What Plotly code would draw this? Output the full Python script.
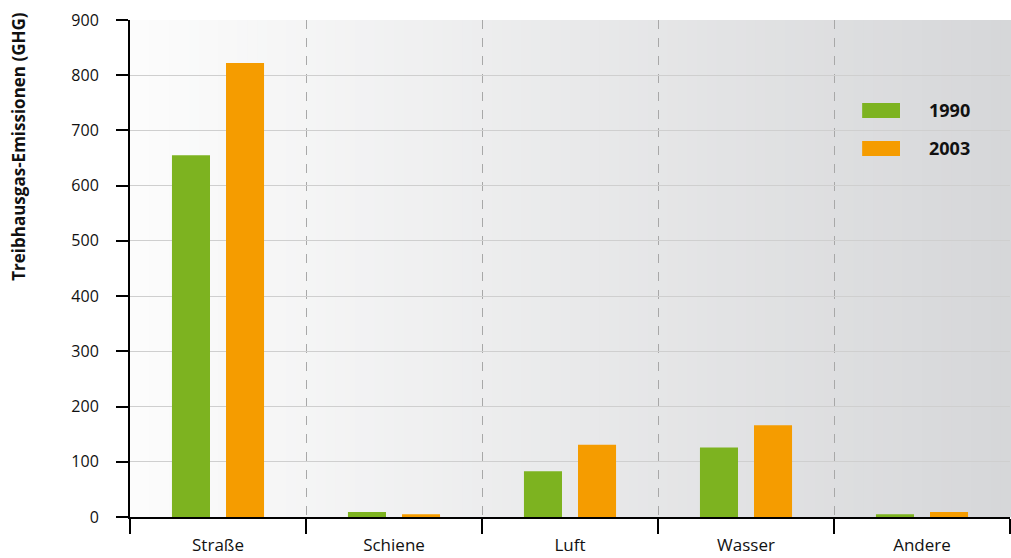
import plotly.graph_objects as go

categories = ["Straße", "Schiene", "Luft", "Wasser", "Andere"]
years = ["1990", "2003"]
values_1990 = [655, 9, 83, 126, 5]
values_2003 = [822, 5, 131, 166, 9]
colors = ["#7db320", "#f59c00"]
y_ticks = [0, 100, 200, 300, 400, 500, 600, 700, 800, 900]

fig = go.Figure()
for name, vals, col in zip(years, [values_1990, values_2003], colors):
    fig.add_trace(go.Bar(x=categories, y=vals, name=name, marker_color=col,
                         marker_line_width=0, showlegend=False))

# background gradient (white -> light grey) as thin stripes
n = 90
c0 = (252, 252, 252)
c1 = (214, 215, 217)
for i in range(n):
    t = i / (n - 1)
    c = tuple(round(a + (b - a) * t) for a, b in zip(c0, c1))
    fig.add_shape(type="rect", xref="x domain", yref="y domain",
                  x0=i / n, x1=(i + 1) / n + 0.002, y0=0, y1=1,
                  fillcolor="rgb(%d,%d,%d)" % c, line_width=0, layer="below")

# custom legend
for k, (name, col) in enumerate(zip(years, colors)):
    y0 = 0.803 - k * 0.0765
    fig.add_shape(type="rect", xref="paper", yref="paper",
                  x0=0.832, x1=0.875, y0=y0, y1=y0 + 0.030,
                  fillcolor=col, line_width=0)
    fig.add_annotation(text="<b>%s</b>" % name, xref="paper", yref="paper",
                       x=0.906, y=y0 + 0.015, xanchor="left", yanchor="middle",
                       showarrow=False, font=dict(family="Open Sans", size=18, color="#111"))

fig.add_annotation(text="<b>Treibhausgas-Emissionen (GHG)</b>", xref="paper", yref="paper",
                   x=-0.127, y=1.02, xanchor="center", yanchor="top", textangle=-90,
                   showarrow=False, font=dict(family="Open Sans", size=17, color="#111"))

fig.update_layout(
    width=1011, height=558,
    margin=dict(l=130, r=1, t=20, b=41),
    barmode="group", bargap=0.386, bargroupgap=0.296,
    paper_bgcolor="white", plot_bgcolor="white",
    font=dict(family="Open Sans", color="#111"),
)
fig.update_xaxes(tickson="boundaries", ticks="outside", ticklen=15, tickwidth=2,
                 tickcolor="black", showline=True, linecolor="black", linewidth=2,
                 showgrid=True, gridcolor="#a8a8a8", griddash="dash", gridwidth=1,
                 ticklabelstandoff=12,
                 tickfont=dict(family="Open Sans", size=17, color="#111"))
fig.update_yaxes(range=[0, 900], tickvals=y_ticks, ticks="outside", ticklen=12, tickwidth=2,
                 tickcolor="black", showline=True, linecolor="black", linewidth=2,
                 showgrid=True, gridcolor="#cfcfcf", gridwidth=1, zeroline=False,
                 ticklabelstandoff=14,
                 tickfont=dict(family="Open Sans", size=16, color="#111"))

fig.write_html("out.html")
